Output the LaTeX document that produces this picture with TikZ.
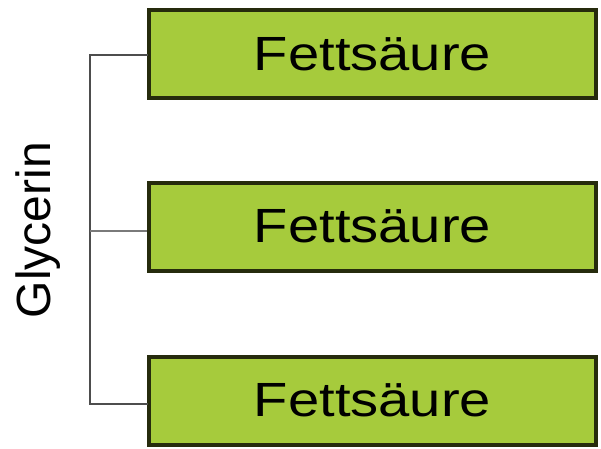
\documentclass[tikz,border=0pt]{standalone}
\usepackage{fontspec}
\usepackage{graphicx}
\setmainfont{Liberation Sans}
\definecolor{boxfill}{HTML}{A6CB3C}
\definecolor{boxedge}{HTML}{262B0D}
\definecolor{linegray}{HTML}{4D4D4D}
\definecolor{linegraymid}{HTML}{7A7A7A}
\tikzset{
  fabox/.style={draw=boxedge, line width=4pt, fill=boxfill, minimum width=447pt, minimum height=88pt, inner sep=0pt, font=\fontsize{48}{48}\selectfont},
  bracket/.style={draw=linegray, line width=2pt},
}
\begin{document}
\begin{tikzpicture}[x=1pt,y=1pt]
\useasboundingbox (0,0) rectangle (601,448);
\fill[white] (0,0) rectangle (601,448);
\node[fabox] (f1) at (372.5,394) {\scalebox{1.17}[1]{Fettsäure}};
\node[fabox] (f2) at (372.5,221.5) {\scalebox{1.17}[1]{Fettsäure}};
\node[fabox] (f3) at (372.5,47.5) {\scalebox{1.17}[1]{Fettsäure}};
\coordinate (top) at (90,393);
\coordinate (mid) at (90,217);
\coordinate (bot) at (90,44);
\draw[bracket, line cap=rect] (f1.west |- top) -- (top) -- (bot) -- (f3.west |- bot);
\draw[bracket, draw=linegraymid] (mid) -- (f2.west |- mid);
\node[rotate=90, anchor=base, font=\fontsize{48}{48}\selectfont, inner sep=0pt] (gly) at (50,218) {Glycerin};
\end{tikzpicture}
\end{document}
